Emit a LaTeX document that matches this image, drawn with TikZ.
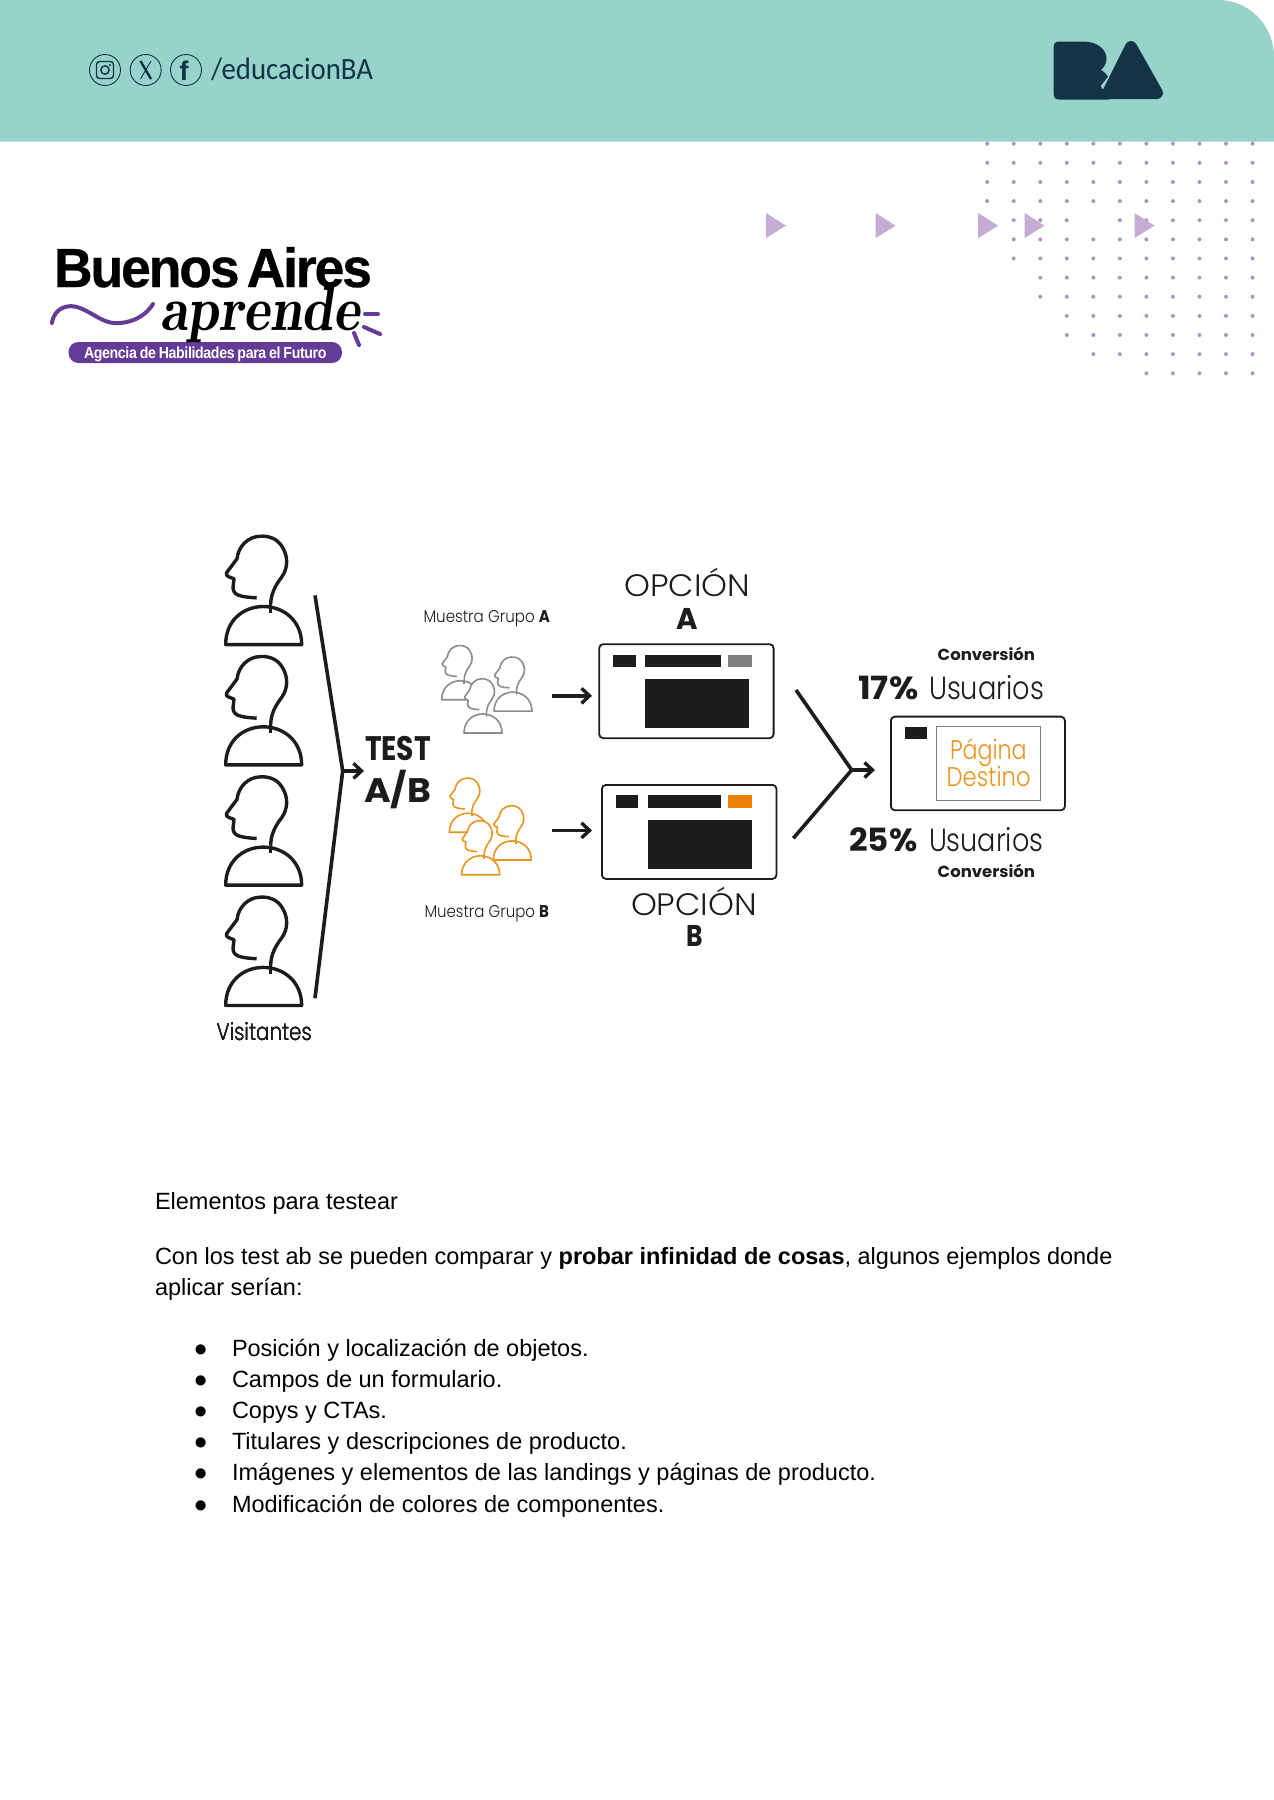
\documentclass[tikz,border=0pt]{standalone}
\usepackage{fontspec}
\usepackage{graphicx}
\usetikzlibrary{arrows.meta}
\setmainfont{Liberation Sans}
\newfontfamily\futl{Poppins Light}
\newfontfamily\futb{Poppins}[UprightFont=* Bold]
\newfontfamily\carl{Carlito}
\newfontfamily\logofont{Liberation Sans}[UprightFont=* Bold,LetterSpace=-4,WordSpace=0.55,FakeBold=0.6]
\newfontfamily\pillfont{Liberation Sans}[UprightFont=* Bold,LetterSpace=-2.5,WordSpace=0.8]
\definecolor{teal}{HTML}{97D2CB}
\definecolor{navy}{HTML}{133346}
\definecolor{dotc}{HTML}{B48FCB}
\definecolor{tric}{HTML}{C0A5D0}
\definecolor{purp}{HTML}{643C97}
\definecolor{ink}{HTML}{1C1C1C}
\definecolor{org}{HTML}{E8951E}
\definecolor{orgbar}{HTML}{EE8208}
\definecolor{grayp}{HTML}{8C8C8C}
\newcommand{\fs}[1]{\fontsize{#1}{#1}\selectfont}
\newcommand{\hsq}[2]{\resizebox{#1pt}{\height}{#2}}
\tikzset{
 txt/.style={inner sep=0pt,outer sep=0pt,anchor=base west,text=ink},
 page/.style={inner sep=0pt,outer sep=0pt,anchor=base west,text=black},
 browser/.style={draw=ink,line width=1.8pt,rounded corners=4pt,fill=white},
 bar/.style={fill=ink},
 conn/.style={draw=ink,line width=3.6pt},
 connarrow/.style={draw=ink,line width=3.4pt,-{Straight Barb[length=8pt,width=15pt]}},
 spark/.style={draw=purp,line width=4pt,line cap=round},
 tri/.style={fill=tric,fill opacity=.92},
}
% person in zoom units
\newcommand{\person}[6]{% shift x, y, xscale, yscale, colour, width
 \begin{scope}[shift={(#1,#2)},xscale=#3,yscale=#4,draw=#5,line width=#6,fill=white,line join=round]
  \filldraw (272,246) .. controls (272,215) and (285,190) .. (305,165) .. controls (324,140) and (326,105) .. (305,75) .. controls (290,52) and (262,45) .. (240,47) .. controls (205,48) and (175,75) .. (171,112) -- (140,152) .. controls (137,158) and (140,162) .. (146,164) -- (162,170) -- (159,195) .. controls (160,216) and (175,222) .. (230,225);
  \filldraw (137,360) -- (365,360) .. controls (365,290) and (310,250) .. (250,250) .. controls (190,250) and (137,290) .. (137,360) -- cycle;
  \draw (272,246) -- (272,268);
 \end{scope}}
\begin{document}
\begin{tikzpicture}[x=1pt,y=-1pt]
\useasboundingbox (0,0) rectangle (1274,1800);
% header
\fill[teal] (0,0) -- (1218,0) .. controls (1249,0) and (1274,25) .. (1274,57) -- (1274,141.5) -- (0,141.5) -- cycle;
% social icons
\draw[navy,line width=.9pt] (105,70) circle (15.5pt) (145.7,70) circle (15.5pt) (186,70) circle (15.5pt);
\draw[navy,line width=1.4pt,rounded corners=3pt] (96.5,61.5) rectangle (113.5,78.5);
\draw[navy,line width=1.4pt] (105,70) circle (4.2pt);
\fill[navy] (110,65) circle (1.1pt);
\draw[navy,line width=2.4pt] (140.5,61) -- (151,79);
\draw[navy,line width=.9pt] (151,61) -- (140.5,79);
\node[txt,text=navy] (fb) at (179.5,80) {\bfseries\fs{27}f};
\node[txt,text=navy] (handle) at (211,79) {\hsq{162}{\carl\fs{31}/educacionBA}};
% BA logo
\fill[navy] (1059,41.5) -- (1083,41.5) .. controls (1098,41.5) and (1107,50) .. (1106.5,60) .. controls (1106,64) and (1104,67) .. (1101,70) .. controls (1108,74) and (1113,82) .. (1112,99.5) -- (1059,99.5) .. controls (1055,99.5) and (1053.5,97) .. (1053.5,94) -- (1053.5,47) .. controls (1053.5,44) and (1055,41.5) .. (1059,41.5) -- cycle;
\filldraw[teal,line width=2pt,line join=round] (1130,55) -- (1113,72) -- (1102,86) -- (1110,99.5) -- (1130,99.5) -- cycle;
\filldraw[navy,line width=12pt,line join=round] (1131,47) -- (1157,93) -- (1108,93) -- cycle;
% dots
\foreach \r/\s in {0/0,1/0,2/0,3/0,4/1,5/1,6/1,7/2,8/2,9/3,10/3,11/4,12/6}
 \foreach \c in {\s,...,10}{
  \ifnum\r=4 \ifnum\c=4 \else \fill[dotc] ({987.2+26.53*\c},{143.7+19.13*\r}) circle (2pt); \fi
  \else \fill[dotc] ({987.2+26.53*\c},{143.7+19.13*\r}) circle (2pt); \fi}
% triangles
\foreach \tx in {766,875.7,978.2,1024.6,1134.5}
 \fill[tri] (\tx,213) -- ({\tx+20},225.7) -- (\tx,238) -- cycle;
% logo
\node[page] (ba) at (54,287) {\hsq{318}{\logofont\fs{55}Buenos Aires}};
\draw[purp,line width=4pt,line cap=round] (52,323) .. controls (54,308) and (68,303) .. (80,308) .. controls (95,314) and (105,325) .. (120,323) .. controls (135,322) and (147,314) .. (153,304);
\draw[spark] (365,314) -- (378,314);
\draw[spark] (364,327) -- (380,334);
\draw[spark] (354,333) -- (359,345);
\fill[purp,rounded corners=10pt] (68.5,342) rectangle (342,363);
\node[page,text=white] (pilltxt) at (84,358) {\hsq{242.5}{\pillfont\fs{16}Agencia de Habilidades para el Futuro}};
\node[page] (aprende) at (160,330) {\hsq{200}{\fontfamily{lmr}\bfseries\itshape\fs{63}aprende}};
% visitors
\foreach \k in {0,1,2,3}
 \person{180}{520+120.3*\k}{1/3}{1/2.89}{ink}{3.4pt}
\node[txt] (visit) at (216.7,1040.8) {\hsq{95}{\futl\fs{24}Visitantes}};
% split connector
\coordinate (brTop) at (315,595.4);
\coordinate (brMid) at (342.7,770.9);
\coordinate (brBot) at (315,998.2);
\coordinate (testIn) at (364,770.9);
\draw[conn] (brTop) -- (brMid) -- (brBot);
\draw[connarrow] (brMid) -- (testIn);
\node[txt] (test) at (365,760) {\hsq{66}{\futb\fs{34}TEST}};
\node[txt] (ab) at (364,802) {\hsq{67}{\futb\fs{34}A/B}};
% samples
\node[txt] (mA) at (423.5,622) {\hsq{126.5}{\futl\fs{17}Muestra Grupo {\futb A}}};
\node[txt] (mB) at (424.5,917.5) {\hsq{124.5}{\futl\fs{17}Muestra Grupo {\futb B}}};
\person{180+716.5/3}{520+339.5/2.89}{1/6}{1/5.78}{grayp}{1.6pt}
\person{180+873.5/3}{520+372.5/2.89}{1/6}{1/5.78}{grayp}{1.6pt}
\person{180+783.5/3}{520+435.5/2.89}{1/6}{1/5.78}{grayp}{1.6pt}
\person{180+739.5/3}{520+722.5/2.89}{1/6}{1/5.78}{org}{1.6pt}
\person{180+871.5/3}{520+802.5/2.89}{1/6}{1/5.78}{org}{1.6pt}
\person{180+776.5/3}{520+845.5/2.89}{1/6}{1/5.78}{org}{1.6pt}
% option boxes
\node[browser,minimum width=174.4pt,minimum height=94pt,inner sep=0pt,anchor=north west] (boxA) at (598.3,643.3) {};
\node[browser,minimum width=174.6pt,minimum height=94pt,inner sep=0pt,anchor=north west] (boxB) at (601,784) {};
\fill[bar] (613.3,654.7) rectangle (635.7,667.3);
\fill[bar] (645,654.7) rectangle (721,667.3);
\fill[black!50] (727.7,654.7) rectangle (752.3,667.3);
\fill[bar] (645,679.3) rectangle (749,728);
\fill[bar] (616.3,795) rectangle (638.3,807.7);
\fill[bar] (647.7,795) rectangle (721,807.7);
\fill[orgbar] (727.7,795) rectangle (752.3,807.7);
\fill[bar] (647.7,820) rectangle (752.3,868.7);
\coordinate (aS) at (551.7,695.8);
\coordinate (aE) at (592,695.8);
\coordinate (bS) at (551.7,830.4);
\coordinate (bE) at (592,830.4);
\draw[connarrow] (aS) -- (aE);
\draw[connarrow] (bS) -- (bE);
\node[txt] (optA) at (624.3,596.7) {\hsq{126}{\futl\fs{31}OPCIÓN}};
\node[txt] (optAl) at (676.7,629.3) {\hsq{21.5}{\futb\fs{30}A}};
\node[txt] (optB) at (631,915) {\hsq{126}{\futl\fs{31}OPCIÓN}};
\node[txt] (optBl) at (686,946) {\hsq{16.5}{\futb\fs{30}B}};
% merge connector
\coordinate (mTop) at (796,690);
\coordinate (mMid) at (851.7,770);
\coordinate (mBot) at (793.3,838.3);
\coordinate (mEnd) at (875,770);
\draw[conn] (mTop) -- (mMid) -- (mBot);
\draw[connarrow] (mMid) -- (mEnd);
% destination
\node[browser,minimum width=174pt,minimum height=93.7pt,inner sep=0pt,anchor=north west] (dest) at (890,715.7) {};
\fill[bar] (905,727.3) rectangle (926.7,739.3);
\draw[black!50,line width=1pt] (936,726.7) rectangle (1040.7,800.7);
\node[txt,text=org] (pag) at (950,759.3) {\hsq{76.7}{\futl\fs{27}Página}};
\node[txt,text=org] (des) at (946.7,786) {\hsq{84}{\futl\fs{27}Destino}};
\node[txt] (cTop) at (937.7,660.7) {\hsq{97.3}{\futb\fs{16}Conversión}};
\node[txt] (cBot) at (937.7,877.7) {\hsq{97.3}{\futb\fs{16}Conversión}};
\node[txt] (p17) at (858.3,699) {\hsq{60}{\futb\fs{32}17\%}};
\node[txt] (u17) at (929,699) {\hsq{115}{\futl\fs{32}Usuarios}};
\node[txt] (p25) at (849.3,851.7) {\hsq{68}{\futb\fs{32}25\%}};
\node[txt] (u25) at (929,851.7) {\hsq{114.3}{\futl\fs{32}Usuarios}};
% body text
\node[page] (t1) at (155,1209.3) {\fs{23.5}Elementos para testear};
\node[page] (t2) at (155,1264) {\fs{23.5}Con los test ab se pueden comparar y \textbf{probar infinidad de cosas}, algunos ejemplos donde};
\node[page] (t3) at (155,1295.5) {\fs{23.5}aplicar serían:};
\foreach \n/\yy/\tt in {a/1356.7/Posición y localización de objetos.,b/1387.7/Campos de un formulario.,c/1418.3/Copys y CTAs.,d/1449.3/Titulares y descripciones de producto.,e/1480.3/Imágenes y elementos de las landings y páginas de producto.,f/1512/Modificación de colores de componentes.}{
 \node[page] (b\n) at (193.5,\yy) {\fs{23.5}●};
 \node[page] (l\n) at (232,\yy) {\fs{23.5}\tt};
}
\end{tikzpicture}
\end{document}
